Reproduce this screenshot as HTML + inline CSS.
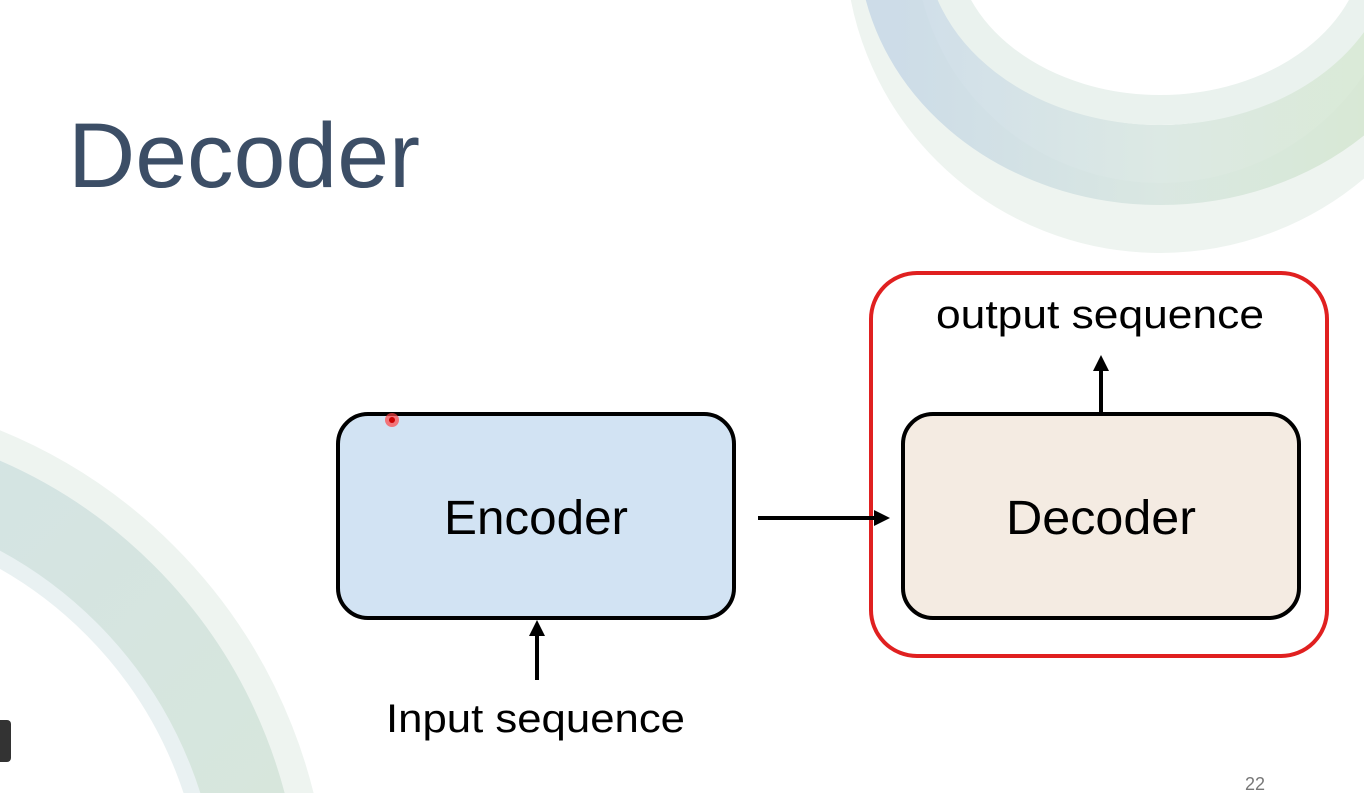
<!DOCTYPE html>
<html><head><meta charset="utf-8"><style>
html,body{margin:0;padding:0;background:#fff;width:1364px;height:793px;overflow:hidden}
svg{display:block}
text{font-family:"Liberation Sans",sans-serif}
</style></head><body>
<svg width="1364" height="793" viewBox="0 0 1364 793" xmlns="http://www.w3.org/2000/svg">
<defs>
<linearGradient id="g1" x1="0" y1="0" x2="1" y2="0">
<stop offset="0" stop-color="#c7d8e6"/><stop offset="0.5" stop-color="#d6e5df"/><stop offset="1" stop-color="#d3e6cc"/>
</linearGradient>
<linearGradient id="g2" x1="0" y1="0" x2="1" y2="1">
<stop offset="0" stop-color="#c9dbe6"/><stop offset="1" stop-color="#d3e5cf"/>
</linearGradient>
</defs>
<rect width="1364" height="793" fill="#fff"/>
<ellipse cx="1160" cy="-60" rx="280" ry="278" fill="none" stroke="#eef4f0" stroke-width="70"/>
<ellipse cx="1160" cy="-60" rx="262" ry="225" fill="none" stroke="url(#g1)" stroke-width="80" opacity="0.85"/>
<ellipse cx="1160" cy="-60" rx="220" ry="170" fill="none" stroke="#eaf2ee" stroke-width="30"/>
<circle cx="-200" cy="920" r="515" fill="none" stroke="#eef4f0" stroke-width="28"/>
<circle cx="-200" cy="920" r="460" fill="none" stroke="url(#g2)" stroke-width="82" opacity="0.85"/>
<circle cx="-200" cy="920" r="412" fill="none" stroke="#e9f1f2" stroke-width="16"/>
<rect x="-6" y="720" width="17" height="42" rx="4" fill="#333"/>
<text x="68" y="187" font-size="92" fill="#3c4e66" textLength="352" lengthAdjust="spacingAndGlyphs">Decoder</text>
<rect x="871" y="273" width="456" height="383" rx="46" fill="none" stroke="#e02020" stroke-width="4"/>
<rect x="338" y="414" width="396" height="204" rx="30" fill="#d2e3f3" stroke="#000" stroke-width="4"/>
<text x="444" y="534" font-size="48" fill="#000" textLength="184" lengthAdjust="spacingAndGlyphs">Encoder</text>
<rect x="903" y="414" width="396" height="204" rx="30" fill="#f4ebe2" stroke="#000" stroke-width="4"/>
<text x="1006" y="534" font-size="48" fill="#000" textLength="190" lengthAdjust="spacingAndGlyphs">Decoder</text>
<line x1="758" y1="518" x2="876" y2="518" stroke="#000" stroke-width="4"/>
<polygon points="890,518 874,510 874,526" fill="#000"/>
<line x1="1101" y1="412" x2="1101" y2="370" stroke="#000" stroke-width="4"/>
<polygon points="1101,355 1093,371 1109,371" fill="#000"/>
<line x1="537" y1="680" x2="537" y2="634" stroke="#000" stroke-width="4"/>
<polygon points="537,620 529,636 545,636" fill="#000"/>
<text x="936" y="328" font-size="40" fill="#000" textLength="328" lengthAdjust="spacingAndGlyphs">output sequence</text>
<text x="386" y="732" font-size="40" fill="#000" textLength="299" lengthAdjust="spacingAndGlyphs">Input sequence</text>
<text x="1245" y="790" font-size="18" fill="#777">22</text>
<circle cx="392" cy="420" r="7" fill="#f44" opacity="0.7"/>
<circle cx="392" cy="420" r="3" fill="#c00"/>
</svg>
</body></html>
